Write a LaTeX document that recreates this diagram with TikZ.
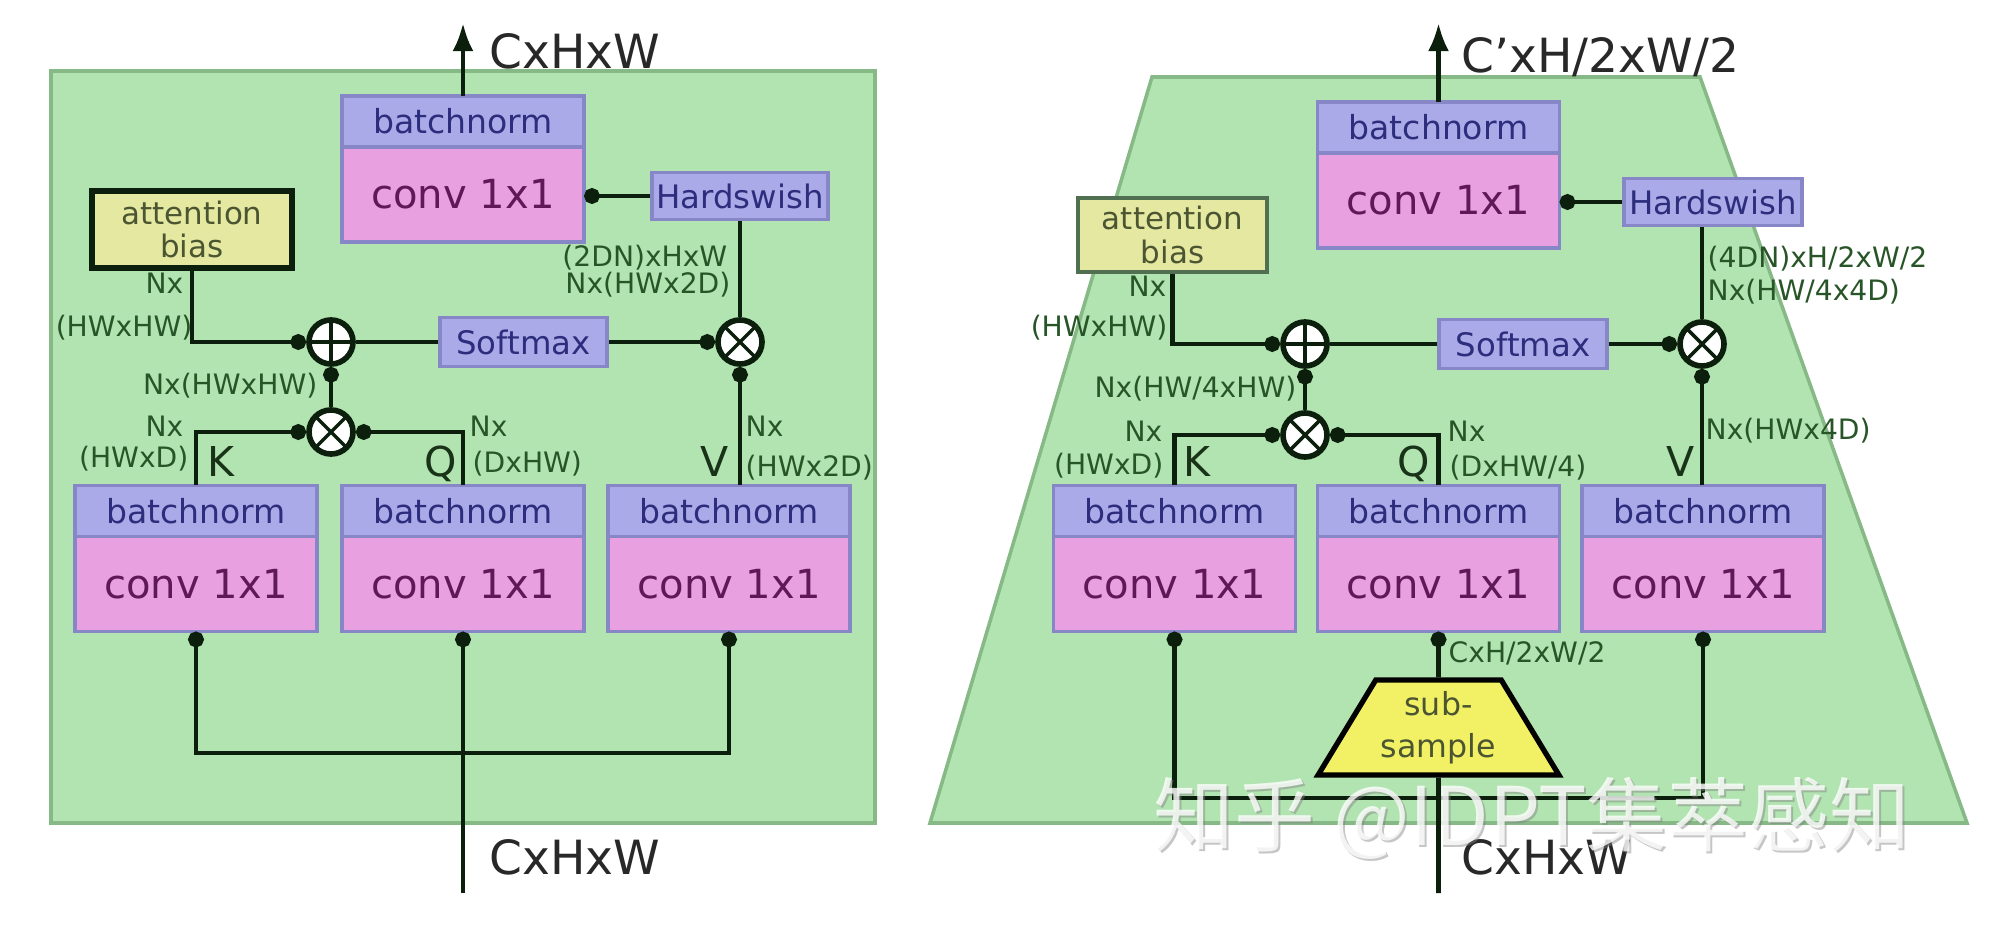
\documentclass[tikz,border=0pt]{standalone}
\usepackage{fontspec}
\setmainfont{DejaVu Sans}
\newfontfamily\cjk{Noto Sans CJK SC}
\usetikzlibrary{arrows.meta,positioning,shapes.geometric}

\definecolor{panelfill}{RGB}{178,228,178}
\definecolor{paneledge}{RGB}{135,185,135}
\definecolor{bnfill}{RGB}{170,170,232}
\definecolor{bnedge}{RGB}{135,135,200}
\definecolor{bntext}{RGB}{45,45,125}
\definecolor{convfill}{RGB}{232,160,224}
\definecolor{convtext}{RGB}{95,25,90}
\definecolor{biasfill}{RGB}{228,232,160}
\definecolor{biastext}{RGB}{75,85,50}
\definecolor{subfill}{RGB}{242,240,100}
\definecolor{wire}{RGB}{12,30,12}
\definecolor{dimtext}{RGB}{40,85,40}
\definecolor{sizetext}{RGB}{40,40,40}

\tikzset{
  layer/.style={draw=bnedge, line width=1pt, minimum width=2.42cm, inner sep=0pt, outer sep=0pt},
  bnorm/.style={layer, fill=bnfill, minimum height=0.51cm, text=bntext, font=\fontsize{9.4}{11}\selectfont},
  conv/.style={layer, fill=convfill, minimum height=0.95cm, text=convtext, font=\fontsize{11.4}{13}\selectfont},
  act/.style={draw=bnedge, line width=1pt, fill=bnfill, text=bntext, inner sep=0pt, minimum height=0.47cm, font=\fontsize{9.2}{10}\selectfont},
  bias/.style={fill=biasfill, draw=wire, line width=1.6pt, align=center, inner sep=0pt, text=biastext, font=\fontsize{8.8}{9.5}\selectfont},
  oper/.style={circle, draw=wire, fill=white, line width=1.6pt, minimum size=0.44cm, inner sep=0pt},
  addop/.style={oper, path picture={\draw[wire, line width=1pt] (path picture bounding box.north) -- (path picture bounding box.south) (path picture bounding box.west) -- (path picture bounding box.east);}},
  mulop/.style={oper, path picture={\draw[wire, line width=1pt] (path picture bounding box.north west) -- (path picture bounding box.south east) (path picture bounding box.north east) -- (path picture bounding box.south west);}},
  link/.style={draw=wire, line width=1.3pt},
  dotend/.style={link, -{Circle[length=4.5pt]}},
  dotboth/.style={link, {Circle[length=4.5pt]}-{Circle[length=4.5pt]}},
  outarrow/.style={link, -{Latex[length=8pt,width=6pt]}},
  dim/.style={text=dimtext, inner sep=0pt, font=\fontsize{8}{9}\selectfont},
  qkv/.style={text=dimtext!60!black, inner sep=0pt, font=\fontsize{11.7}{13}\selectfont},
  size/.style={text=sizetext, inner sep=0pt, font=\fontsize{13.4}{15}\selectfont},
  wmark/.style={font=\cjk\fontsize{23}{26}\selectfont}
}

\begin{document}
\begin{tikzpicture}[x=0.01cm, y=-0.01cm]
\useasboundingbox (0,0) rectangle (2000,937);

% left: attention block
\fill[panelfill, draw=paneledge, line width=1pt] (51,71) rectangle (875,823);
\node[bnorm] (lbnT) at (463,121.5) {batchnorm};
\node[conv, below=0pt of lbnT] (lconvT) {conv 1x1};
\node[act, minimum width=1.76cm] (lhsw) at (740,196) {Hardswish};
\node[bias, minimum width=2cm, minimum height=0.77cm] (lbias) at (192,229.5) {attention\\bias};
\node[addop] (ladd) at (331,342) {};
\node[act, minimum width=1.67cm, minimum height=0.49cm] (lsoft) at (523.5,342) {Softmax};
\node[mulop] (lmulV) at (740,342) {};
\node[mulop] (lmulKQ) at (331,432) {};
\node[bnorm] (lbnK) at (196,511) {batchnorm};
\node[conv, below=0pt of lbnK] (lconvK) {conv 1x1};
\node[bnorm] (lbnQ) at (463,511) {batchnorm};
\node[conv, below=0pt of lbnQ] (lconvQ) {conv 1x1};
\node[bnorm] (lbnV) at (729,511) {batchnorm};
\node[conv, below=0pt of lbnV] (lconvV) {conv 1x1};

\coordinate (lout) at (463,23);
\draw[outarrow] (lbnT) -- (lout);
\node[size, anchor=west] (loutdim) at (489,51) {CxHxW};
\draw[dotend] (lhsw) -- (lhsw -| lconvT.east);
\draw[link] (lmulV) -- (lhsw);
\draw[link] (ladd) -- (lsoft);
\draw[dotend] (lsoft) -- (lmulV);
\draw[dotend] (lbias) |- (ladd);
\draw[dotend] (lmulKQ) -- (ladd);
\draw[dotend] (lbnK) |- (lmulKQ);
\draw[dotend] (lbnQ) |- (lmulKQ);
\draw[dotend] (lbnV.north -| lmulV) -- (lmulV);
\coordinate (lin) at (463,893);
\coordinate (ljoin) at (463,753);
\draw[dotend] (lin) -- (lconvQ);
\draw[dotboth] (lconvK) |- (ljoin) -| (lconvV);
\node[size, anchor=west] (lindim) at (489,857) {CxHxW};

\node[dim, anchor=base east] (lbiasdimA) at (184,294) {Nx};
\node[dim, anchor=base east] (lbiasdimB) at (193,337) {(HWxHW)};
\node[dim, anchor=base east] (lkqdim) at (318,395) {Nx(HWxHW)};
\node[dim, anchor=base east] (lkdimA) at (184,436) {Nx};
\node[dim, anchor=base east] (lkdimB) at (189,468) {(HWxD)};
\node[qkv, anchor=base west] (lk) at (207,477) {K};
\node[qkv, anchor=base east] (lq) at (458,477) {Q};
\node[dim, anchor=base west] (lqdimA) at (469,437) {Nx};
\node[dim, anchor=base west] (lqdimB) at (472,472) {(DxHW)};
\node[qkv, anchor=base east] (lv) at (729,477) {V};
\node[dim, anchor=base west] (lvdimA) at (745,436) {Nx};
\node[dim, anchor=base west] (lvdimB) at (745,476) {(HWx2D)};
\node[dim, anchor=base east] (lhdimA) at (728,267) {(2DN)xHxW};
\node[dim, anchor=base east] (lhdimB) at (731,294) {Nx(HWx2D)};

% right: shrink attention block
\fill[panelfill, draw=paneledge, line width=1pt] (1152,77) -- (1700,77) -- (1967,823) -- (930,823) -- cycle;
\node[bnorm] (rbnT) at (1438.5,127.5) {batchnorm};
\node[conv, below=0pt of rbnT] (rconvT) {conv 1x1};
\node[act, minimum width=1.78cm] (rhsw) at (1713,202) {Hardswish};
\node[bias, draw=paneledge!60!black, line width=1pt, minimum width=1.89cm, minimum height=0.74cm] (rbias) at (1172.5,235) {attention\\bias};
\node[addop] (radd) at (1305,344) {};
\node[act, minimum width=1.68cm, minimum height=0.49cm] (rsoft) at (1523,344) {Softmax};
\node[mulop] (rmulV) at (1702,344) {};
\node[mulop] (rmulKQ) at (1305,435) {};
\node[bnorm] (rbnK) at (1174.5,511) {batchnorm};
\node[conv, below=0pt of rbnK] (rconvK) {conv 1x1};
\node[bnorm] (rbnQ) at (1438.5,511) {batchnorm};
\node[conv, below=0pt of rbnQ] (rconvQ) {conv 1x1};
\node[bnorm] (rbnV) at (1703,511) {batchnorm};
\node[conv, below=0pt of rbnV] (rconvV) {conv 1x1};
\node[trapezium, trapezium angle=54, trapezium stretches=true, minimum width=2.41cm, minimum height=0.95cm,
  draw=black, line width=1.5pt, fill=subfill, align=center, inner sep=0pt, text=biastext,
  font=\fontsize{9}{12}\selectfont] (rsub) at (1438.5,727.5) {sub-\\sample};

\coordinate (rout) at (1438.5,23);
\draw[outarrow] (rbnT) -- (rout);
\node[size, anchor=west] (routdim) at (1461,57) {C'xH/2xW/2};
\draw[dotend] (rhsw) -- (rhsw -| rconvT.east);
\draw[link] (rmulV) -- (rmulV |- rhsw.south);
\draw[link] (radd) -- (rsoft);
\draw[dotend] (rsoft) -- (rmulV);
\draw[dotend] (rbias) |- (radd);
\draw[dotend] (rmulKQ) -- (radd);
\draw[dotend] (rbnK) |- (rmulKQ);
\draw[dotend] (rbnQ) |- (rmulKQ);
\draw[dotend] (rbnV.north -| rmulV) -- (rmulV);
\coordinate (rin) at (1438.5,893);
\coordinate (rjoin) at (1438.5,798);
\draw[link] (rin) -- (rsub);
\draw[dotend] (rsub) -- (rconvQ);
\draw[dotboth] (rconvK) |- (rjoin) -| (rconvV);
\node[size, anchor=west] (rindim) at (1461,857) {CxHxW};

\node[dim, anchor=base east] (rbiasdimA) at (1167,297) {Nx};
\node[dim, anchor=base east] (rbiasdimB) at (1168,337) {(HWxHW)};
\node[dim, anchor=base east] (rkqdim) at (1297,398) {Nx(HW/4xHW)};
\node[dim, anchor=base east] (rkdimA) at (1163,442) {Nx};
\node[dim, anchor=base east] (rkdimB) at (1164,475) {(HWxD)};
\node[qkv, anchor=base west] (rk) at (1183,477) {K};
\node[qkv, anchor=base east] (rq) at (1431,477) {Q};
\node[dim, anchor=base west] (rqdimA) at (1447,442) {Nx};
\node[dim, anchor=base west] (rqdimB) at (1449,476) {(DxHW/4)};
\node[qkv, anchor=base east] (rv) at (1695,477) {V};
\node[dim, anchor=base west] (rvdim) at (1705,440) {Nx(HWx4D)};
\node[dim, anchor=base west] (rhdimA) at (1707,268) {(4DN)xH/2xW/2};
\node[dim, anchor=base west] (rhdimB) at (1707,301) {Nx(HW/4x4D)};
\node[dim, anchor=base west] (rsubdim) at (1448,662) {CxH/2xW/2};

% watermark
\node[wmark, text=gray, opacity=0.45] (markshade) at (1534,820) {知乎 @IDPT集萃感知};
\node[wmark, text=white, opacity=0.8] (markfront) at (1532,818) {知乎 @IDPT集萃感知};
\end{tikzpicture}
\end{document}
